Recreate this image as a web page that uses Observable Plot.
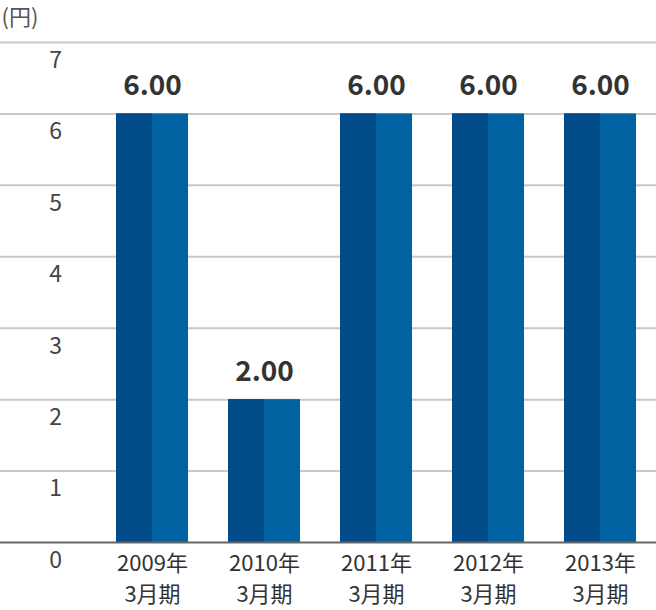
<!DOCTYPE html>
<html>
<head>
<meta charset="utf-8">
<script src="https://cdn.jsdelivr.net/npm/d3@7"></script>
<script src="https://cdn.jsdelivr.net/npm/@observablehq/plot@0.6"></script>
<style>
  body { margin: 0; background: #fff; }
  #chart svg { display: block; }
</style>
</head>
<body>
<div id="chart"></div>
<script>
const years = ["2009年", "2010年", "2011年", "2012年", "2013年"];
const periodLabel = "3月期";
const dividends = [6.00, 2.00, 6.00, 6.00, 6.00];
const yTicks = [0, 1, 2, 3, 4, 5, 6, 7];
const unitLabel = "(円)";

const data = years.map((y, i) => ({year: y, value: dividends[i]}));
const font = "'Noto Sans CJK JP', 'Noto Sans', sans-serif";

const chart = Plot.plot({
  width: 656,
  height: 610,
  marginTop: 42,
  marginBottom: 68,
  marginLeft: 0,
  marginRight: 0,
  style: {fontFamily: font, background: "#fff"},
  x: {domain: years, range: [96, 656], paddingInner: 40 / 112, paddingOuter: 20 / 112, axis: null},
  y: {domain: [0, 7], axis: null},
  marks: [
    Plot.ruleY(yTicks.filter(d => d > 0), {stroke: "#c8c8c8", strokeWidth: 2}),
    Plot.barY(data, {x: "year", y: "value", fill: "#0062a1"}),
    Plot.barY(data, {x: "year", y: "value", fill: "#004b88", insetRight: 36}),
    Plot.ruleY([0], {stroke: "#666", strokeWidth: 2}),
    Plot.text(data, {x: "year", y: "value", text: d => d.value.toFixed(2), dy: -28, fontSize: 28, fontWeight: "bold", fill: "#333"}),
    Plot.text(yTicks, {y: d => d, text: d => String(d), frameAnchor: "left", dx: 55, dy: 18, textAnchor: "middle", fontSize: 23, fill: "#444"}),
    Plot.text(data, {x: "year", text: "year", frameAnchor: "bottom", lineAnchor: "middle", dy: 21, fontSize: 22, fill: "#333"}),
    Plot.text(data, {x: "year", text: () => periodLabel, frameAnchor: "bottom", lineAnchor: "middle", dy: 52, fontSize: 22, fill: "#333"}),
    Plot.text([unitLabel], {text: d => d, frameAnchor: "top-left", dx: 1, dy: -25, textAnchor: "start", lineAnchor: "middle", fontSize: 22, fill: "#555"})
  ]
});
document.getElementById("chart").appendChild(chart);
</script>
</body>
</html>
